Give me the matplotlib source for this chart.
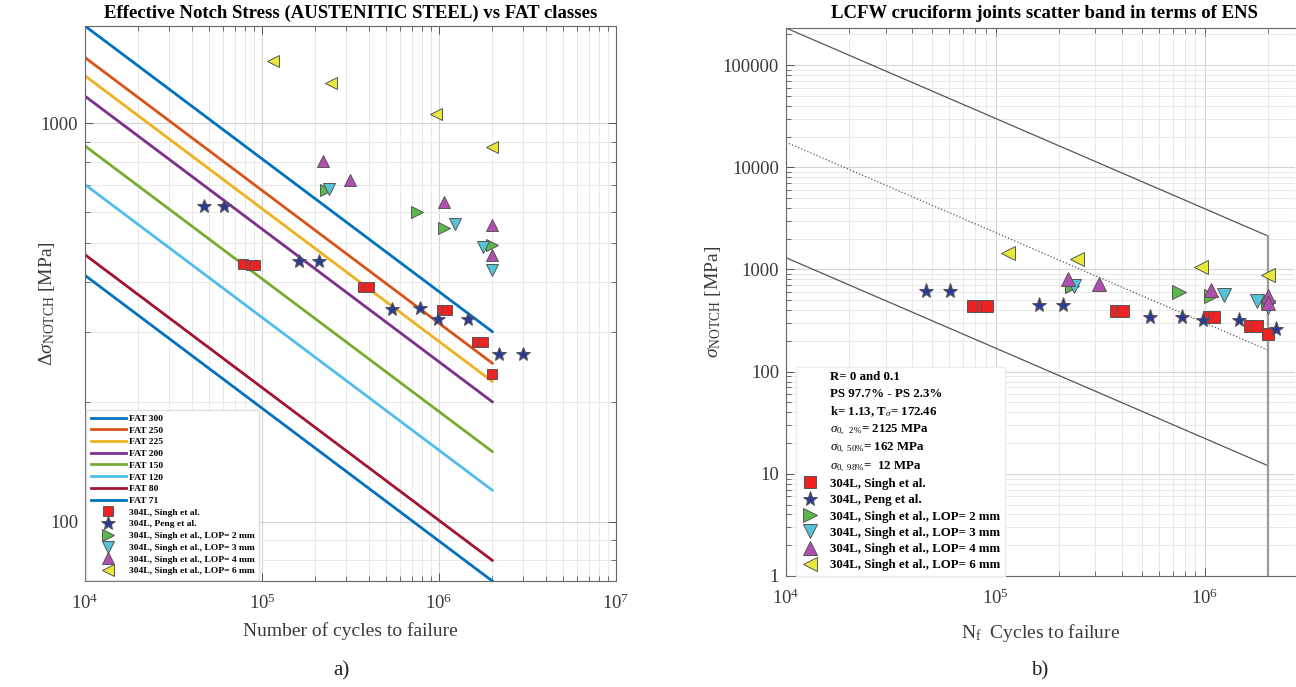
import numpy as np
import matplotlib
matplotlib.use('Agg')
import matplotlib.pyplot as plt
from matplotlib.lines import Line2D
from matplotlib.ticker import LogLocator, NullFormatter, FuncFormatter, FixedLocator

plt.rcParams['font.family'] = ['Liberation Serif', 'DejaVu Serif']
plt.rcParams['mathtext.fontset'] = 'custom'
plt.rcParams['mathtext.rm'] = 'Liberation Serif'
plt.rcParams['mathtext.it'] = 'Liberation Serif:italic'
plt.rcParams['mathtext.bf'] = 'Liberation Serif:bold'

# ---------------- data ----------------
fat_classes = [300, 250, 225, 200, 150, 120, 80, 71]
fat_labels = ['FAT 300', 'FAT 250', 'FAT 225', 'FAT 200', 'FAT 150', 'FAT 120', 'FAT 80', 'FAT 71']
fat_colors = ['#0072BD', '#D95319', '#EDB120', '#7E2F8E', '#77AC30', '#4DBEEE', '#A2142F', '#0072BD']
fat_slope = 3.0
N_ref = 2e6
N_range = [1e4, 2e6]

singh_N = [77.8e3, 87.1e3, 91.4e3, 374e3, 404e3, 1.04e6, 1.11e6, 1.64e6, 1.78e6, 2.0e6]
singh_S = [443, 440, 440, 389, 389, 340, 340, 283, 283, 235]
peng_N = [46.8e3, 60.8e3, 161e3, 211e3, 546e3, 778e3, 982e3, 1.46e6, 2.18e6, 2.99e6]
peng_S = [620, 620, 451, 451, 342, 344, 323, 323, 264, 264]
lop2_N = [231e3, 750e3, 1.07e6, 2.0e6]
lop2_S = [682, 599, 547, 496]
lop3_N = [238e3, 1.23e6, 1.78e6, 2.0e6]
lop3_S = [685, 560, 490, 428]
lop4_N = [222e3, 313e3, 1.07e6, 2.0e6, 2.0e6]
lop4_S = [804, 720, 636, 554, 467]
lop6_N = [115e3, 244e3, 960e3, 2.0e6]
lop6_S = [1435, 1261, 1054, 874]

series_labels = ['304L, Singh et al.', '304L, Peng et al.',
                 '304L, Singh et al., LOP= 2 mm', '304L, Singh et al., LOP= 3 mm',
                 '304L, Singh et al., LOP= 4 mm', '304L, Singh et al., LOP= 6 mm']

band_k = 1.13
band_sigma0 = [2125, 162, 12]          # PS 2.3%, 50%, 97.7% values at 2e6 cycles
band_styles = ['-', ':', '-']
band_info = ['R= 0 and 0.1', 'PS 97.7% - PS 2.3%', r'k= 1.13, T$_\sigma$= 172.46',
             r'$\sigma_{0,\ \ 2\%}$= 2125 MPa', r'$\sigma_{0,\ 50\%}$= 162 MPa',
             r'$\sigma_{0,\ 98\%}$=  12 MPa']

# ---------------- styles ----------------
series = [
    (singh_N, singh_S, 's', '#EE2222'),
    (peng_N, peng_S, '*', '#2B3A94'),
    (lop2_N, lop2_S, '>', '#5AB94A'),
    (lop3_N, lop3_S, 'v', '#56C4D8'),
    (lop4_N, lop4_S, '^', '#B04FB0'),
    (lop6_N, lop6_S, '<', '#E8E83A'),
]
left_ms = {'s': 7, '*': 10, '>': 9, 'v': 9, '^': 9, '<': 9}
right_ms = {'s': 8, '*': 11, '>': 10, 'v': 10, '^': 10, '<': 10}

tick_color = '#3a3a3a'
W, H = 1296, 687
fig = plt.figure(figsize=(W / 100, H / 100), dpi=100)

# ======== left panel ========
L, R, T, B = 85, 616, 26, 581
ax1 = fig.add_axes([L / W, (H - B) / H, (R - L) / W, (B - T) / H])
Nl = np.array(N_range)
handles = []
for fat, lab, col in zip(fat_classes, fat_labels, fat_colors):
    S = fat * (N_ref / Nl) ** (1.0 / fat_slope)
    h, = ax1.plot(Nl, S, '-', color=col, lw=2.0, label=lab)
    handles.append(h)
for (xs, ys, m, c), lab in zip(series, series_labels):
    h, = ax1.plot(xs, ys, linestyle='none', marker=m, ms=left_ms[m], mfc=c,
                  mec='#555555', mew=0.7, label=lab, zorder=5)
    handles.append(h)
ax1.set_xscale('log')
ax1.set_yscale('log')
ax1.set_xlim(1e4, 1e7)
ymin = min(fat_classes) * (N_ref / N_range[1]) ** (1 / fat_slope)
ymax = max(fat_classes) * (N_ref / N_range[0]) ** (1 / fat_slope)
ax1.set_ylim(ymin, ymax)
ax1.yaxis.set_major_locator(FixedLocator([100, 1000]))
ax1.yaxis.set_major_formatter(FuncFormatter(lambda v, p: '%d' % v))
ax1.yaxis.set_minor_locator(LogLocator(base=10, subs=np.arange(2, 10)))
ax1.yaxis.set_minor_formatter(NullFormatter())
ax1.xaxis.set_minor_locator(LogLocator(base=10, subs=np.arange(2, 10), numticks=20))
ax1.xaxis.set_minor_formatter(NullFormatter())
ax1.text(0.5, 1 + (T - 13) / (B - T), 'Effective Notch Stress (AUSTENITIC STEEL) vs FAT classes',
         transform=ax1.transAxes, ha='center', va='center', fontsize=13.5, fontweight='bold')
ax1.set_xlabel('Number of cycles to failure', fontsize=14, color=tick_color)
ax1.xaxis.set_label_coords(0.5, (B - 622) / (B - T))
ax1.set_ylabel(r'Δ$\sigma_{\rm NOTCH}$ [MPa]', fontsize=14, color=tick_color)
ax1.yaxis.set_label_coords((57 - L) / (R - L), 0.5)
leg1 = ax1.legend(handles=handles, loc='lower left', prop={'weight': 'bold', 'size': 6.8},
                  handlelength=3.7, handletextpad=0.4, labelspacing=0.33, borderpad=0.45,
                  borderaxespad=0.15, fancybox=False, framealpha=1, edgecolor='#e0e0e0',
                  markerscale=1.0)

# ======== right panel ========
L2, R2, T2, B2 = 786, 1295, 28, 576
ax2 = fig.add_axes([L2 / W, (H - B2) / H, (R2 - L2) / W, (B2 - T2) / H])
for s0, ls in zip(band_sigma0, band_styles):
    S = s0 * (N_ref / Nl) ** (1.0 / band_k)
    ax2.plot(Nl, S, ls, color='#555555', lw=0.9)
ytop = max(band_sigma0) * (N_ref / N_range[0]) ** (1.0 / band_k)
ax2.plot([N_ref, N_ref], [1, max(band_sigma0)], '-', color='#9a9a9a', lw=1.6)
handles2 = [Line2D([], [], color='none', label=t) for t in band_info]
for (xs, ys, m, c), lab in zip(series, series_labels):
    h, = ax2.plot(xs, ys, linestyle='none', marker=m, ms=right_ms[m], mfc=c,
                  mec='#555555', mew=0.7, label=lab, zorder=5)
    handles2.append(h)
ax2.set_xscale('log')
ax2.set_yscale('log')
ax2.set_xlim(1e4, 10 ** (4 + (R2 - L2) / 209.5))
ax2.set_ylim(1, ytop)
ax2.yaxis.set_major_locator(FixedLocator([1, 10, 100, 1000, 10000, 100000]))
ax2.yaxis.set_major_formatter(FuncFormatter(lambda v, p: '%d' % v))
ax2.yaxis.set_minor_locator(LogLocator(base=10, subs=np.arange(2, 10), numticks=20))
ax2.yaxis.set_minor_formatter(NullFormatter())
ax2.xaxis.set_major_locator(FixedLocator([1e4, 1e5, 1e6]))
ax2.xaxis.set_minor_locator(LogLocator(base=10, subs=np.arange(2, 10), numticks=20))
ax2.xaxis.set_minor_formatter(NullFormatter())
ax2.text((1044 - L2) / (R2 - L2), 1 + (T2 - 14) / (B2 - T2),
         'LCFW cruciform joints scatter band in terms of ENS',
         transform=ax2.transAxes, ha='center', va='center', fontsize=13.5, fontweight='bold')
ax2.set_xlabel(r'N$_{\rm f}$  Cycles to failure', fontsize=14, color=tick_color)
ax2.xaxis.set_label_coords(0.5, (B2 - 622) / (B2 - T2))
ax2.set_ylabel(r'$\sigma_{\rm NOTCH}$ [MPa]', fontsize=14, color=tick_color)
ax2.yaxis.set_label_coords((723 - L2) / (R2 - L2), 0.5)
leg2 = ax2.legend(handles=handles2, loc='lower left', bbox_to_anchor=(0.02, 0.0),
                  prop={'weight': 'bold', 'size': 9.3},
                  handlelength=1.4, handletextpad=0.9, labelspacing=0.33, borderpad=0.35,
                  borderaxespad=0.0, fancybox=False, framealpha=1, edgecolor='#ececec')
ax2.spines['right'].set_visible(False)

for ax in (ax1, ax2):
    ax.grid(True, which='major', color='#d4d4d4', lw=0.8)
    ax.grid(True, which='minor', color='#e8e8e8', lw=0.7)
    ax.set_axisbelow(True)
    ax.tick_params(which='both', direction='in', top=True, right=(ax is ax1),
                   colors='#555555', labelcolor=tick_color, labelsize=13.5)
    ax.tick_params(which='major', length=6, width=0.7)
    ax.tick_params(which='minor', length=3.5, width=0.6)
    ax.tick_params(axis='x', pad=9)
    ax.tick_params(axis='y', pad=5)
    for sp in ax.spines.values():
        sp.set_color('#666666')
        sp.set_linewidth(0.8)

fig.text(341 / W, 1 - 671 / H, 'a)', ha='center', va='center', fontsize=15, color='#222222')
fig.text(1040 / W, 1 - 671 / H, 'b)', ha='center', va='center', fontsize=15, color='#222222')

fig.savefig('out.png', dpi=100)
